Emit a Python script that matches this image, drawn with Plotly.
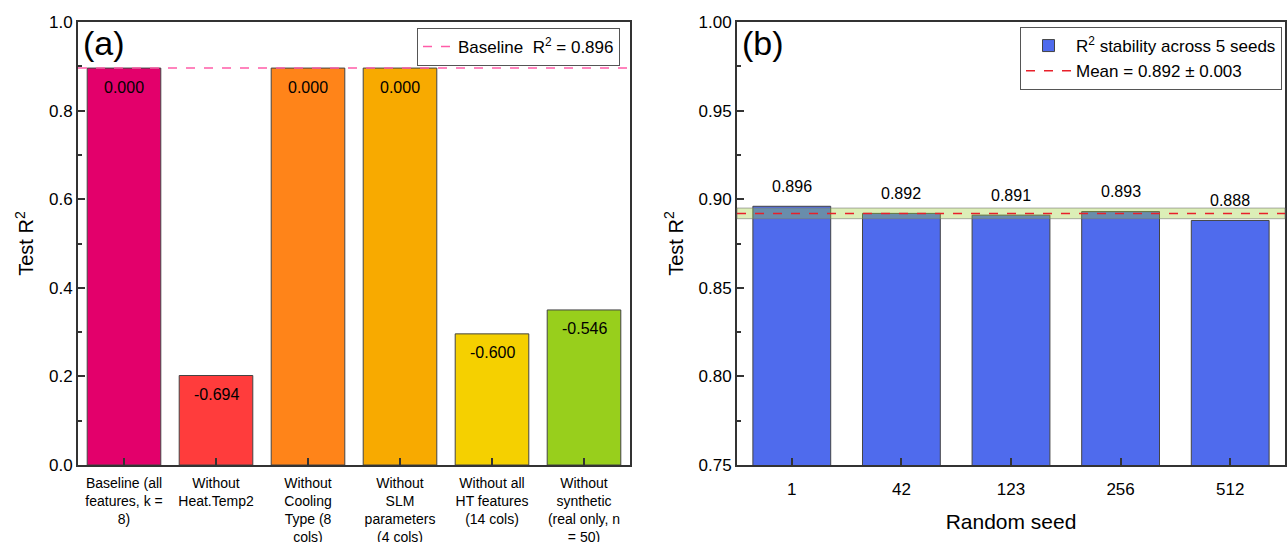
import plotly.graph_objects as go

# ---- data ----
ablation_labels = [
    "Baseline (all<br>features, k =<br>8)",
    "Without<br>Heat.Temp2",
    "Without<br>Cooling<br>Type (8<br>cols)",
    "Without<br>SLM<br>parameters<br>(4 cols)",
    "Without all<br>HT features<br>(14 cols)",
    "Without<br>synthetic<br>(real only, n<br>= 50)",
]
ablation_r2 = [0.896, 0.202, 0.896, 0.896, 0.296, 0.350]
ablation_delta = ["0.000", "-0.694", "0.000", "0.000", "-0.600", "-0.546"]
ablation_colors = ["#E3006B", "#FF3C3C", "#FF8419", "#F8AA00", "#F5D000", "#98CF1C"]
baseline_r2 = 0.896

seeds = ["1", "42", "123", "256", "512"]
seed_r2 = [0.896, 0.892, 0.891, 0.893, 0.888]
seed_mean = 0.892
seed_std = 0.003

FONT = "Arial, Liberation Sans, sans-serif"
AX = "#333333"

fig = go.Figure()

# panel (a)
fig.add_trace(go.Bar(
    x=ablation_labels, y=ablation_r2, width=0.8,
    marker=dict(color=ablation_colors, line=dict(color="#444444", width=1)),
    showlegend=False, xaxis="x", yaxis="y",
))
fig.add_trace(go.Scatter(
    x=[None], y=[None], mode="lines",
    line=dict(color="#FF5CA8", dash="dash", width=1.5),
    name=f"Baseline  R<sup>2</sup> = {baseline_r2:.3f}",
    xaxis="x", yaxis="y", legend="legend",
))
for i, (v, d) in enumerate(zip(ablation_r2, ablation_delta)):
    fig.add_annotation(x=i, y=v, xref="x", yref="y", text=d, showarrow=False,
                       yshift=-19, font=dict(size=16, color="black", family=FONT))

# panel (b)
fig.add_trace(go.Bar(
    x=seeds, y=seed_r2, width=0.71,
    marker=dict(color="#4F6BED", line=dict(color="#444444", width=1)),
    name="R<sup>2</sup> stability across 5 seeds",
    xaxis="x2", yaxis="y2", legend="legend2",
))
fig.add_trace(go.Scatter(
    x=[None], y=[None], mode="lines",
    line=dict(color="#E8202A", dash="dash", width=1.5),
    name=f"Mean = {seed_mean:.3f} ± {seed_std:.3f}",
    xaxis="x2", yaxis="y2", legend="legend2",
))
for i, v in enumerate(seed_r2):
    fig.add_annotation(x=i, y=v, xref="x2", yref="y2", text=f"{v:.3f}", showarrow=False,
                       yshift=20, font=dict(size=16, color="black", family=FONT))

# shapes
fig.add_shape(type="line", xref="x domain", yref="y", x0=0, x1=1, y0=baseline_r2, y1=baseline_r2,
              line=dict(color="#FF5CA8", dash="dash", width=1.5), layer="above")
fig.add_shape(type="rect", xref="x2 domain", yref="y2", x0=0, x1=1,
              y0=seed_mean - seed_std, y1=seed_mean + seed_std,
              fillcolor="rgba(154,205,50,0.35)", line=dict(color="rgba(120,120,120,0.6)", width=1),
              layer="above")
fig.add_shape(type="line", xref="x2 domain", yref="y2", x0=0, x1=1, y0=seed_mean, y1=seed_mean,
              line=dict(color="#E8202A", dash="dash", width=1.5), layer="above")

fig.add_annotation(xref="x domain", yref="y domain", x=0.005, y=1.0, text="(a)", showarrow=False,
                   xanchor="left", yanchor="top", font=dict(size=34, color="black", family=FONT))
fig.add_annotation(xref="x2 domain", yref="y2 domain", x=0.005, y=1.0, text="(b)", showarrow=False,
                   xanchor="left", yanchor="top", font=dict(size=34, color="black", family=FONT))

ydom = [(542 - 465) / 542, (542 - 22) / 542]
common_axis = dict(showline=True, linecolor=AX, linewidth=2, mirror=True, ticks="inside",
                   tickcolor=AX, tickwidth=1.5, ticklen=7, showgrid=False, zeroline=False,
                   automargin=False,
                   tickfont=dict(size=17, color="black", family=FONT))

fig.update_layout(
    width=1287, height=542,
    margin=dict(l=0, r=0, t=0, b=0, autoexpand=False),
    plot_bgcolor="white", paper_bgcolor="white",
    font=dict(family=FONT, color="black"),
    bargap=0.2,
    xaxis=dict(domain=[78 / 1287, 630 / 1287], anchor="y", type="category",
               range=[-0.5, len(ablation_labels) - 0.5],
               ticklabelstandoff=4, **{**common_axis,
               "tickfont": dict(size=14, color="black", family=FONT)}),
    yaxis=dict(domain=ydom, anchor="x", range=[0, 1], dtick=0.2, tickformat=".1f",
               title=dict(text="Test R<sup>2</sup>", font=dict(size=20, family=FONT), standoff=10),
               minor=dict(ticks="inside", dtick=0.1, ticklen=4, tickcolor=AX), **common_axis),
    xaxis2=dict(domain=[737 / 1287, 1285 / 1287], anchor="y2", type="category",
                range=[-0.5, len(seeds) - 0.5],
                ticklabelstandoff=8,
                title=dict(text="Random seed", font=dict(size=21, family=FONT), standoff=16),
                **common_axis),
    yaxis2=dict(domain=ydom, anchor="x2", range=[0.75, 1.0], dtick=0.05, tickformat=".2f",
                title=dict(text="Test R<sup>2</sup>", font=dict(size=20, family=FONT), standoff=10),
                minor=dict(ticks="inside", dtick=0.025, ticklen=4, tickcolor=AX), **common_axis),
    legend=dict(x=620 / 1287, y=(542 - 28) / 542, xanchor="right", yanchor="top",
                bgcolor="white", bordercolor="#555555", borderwidth=1,
                font=dict(size=17, family=FONT), tracegroupgap=0),
    legend2=dict(x=1282 / 1287, y=(542 - 27) / 542, xanchor="right", yanchor="top",
                 bgcolor="white", bordercolor="#555555", borderwidth=1, itemwidth=45,
                 font=dict(size=17, family=FONT), tracegroupgap=0),
)

fig.write_html("out.html")
